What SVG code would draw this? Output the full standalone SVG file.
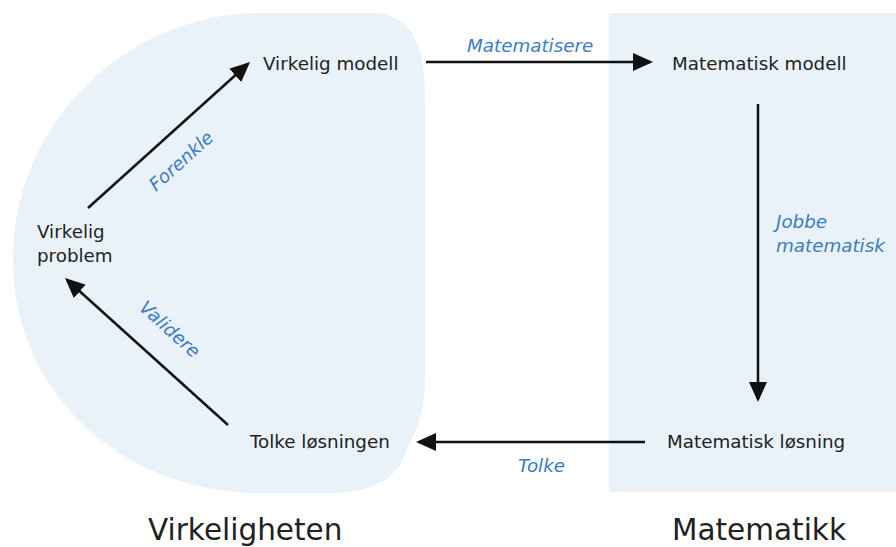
<svg xmlns="http://www.w3.org/2000/svg" width="896" height="547" viewBox="0 0 896 547">
<style>
.bg{fill:#e9f2f9;stroke:none}
.node{font-family:"DejaVu Sans","Verdana",sans-serif;font-size:18.3px;fill:#222}
.lbl{font-family:"DejaVu Sans","Verdana",sans-serif;font-size:18.3px;font-style:italic;fill:#3b7cc6}
.title{font-family:"DejaVu Sans","Verdana",sans-serif;font-size:29.5px;fill:#222}
.conn line{stroke:#111;stroke-width:2.5;fill:none;marker-end:url(#ah)}
</style>
<defs>
<marker id="ah" markerUnits="userSpaceOnUse" markerWidth="22" markerHeight="20" refX="17" refY="9" orient="auto">
<path d="M0,0 L20,9 L0,18 Z" fill="#111"/>
</marker>
</defs>
<rect width="896" height="547" fill="#ffffff"/>
<g id="region-virkeligheten">
<path class="bg" d="M260,13 L370,13 C410,13 425,40 425,100 L425,380 C425,420 410,440 405,455 C395,480 370,493 330,493 L260,493 C120,493 13,390 13,260 C13,120 130,13 260,13 Z"/>
<text class="title" x="148" y="540">Virkeligheten</text>
</g>
<g id="region-matematikk">
<rect class="bg" x="609" y="13" width="287" height="479"/>
<text class="title" x="672" y="540">Matematikk</text>
</g>
<g class="conn" id="connectors">
<line x1="426" y1="62" x2="650" y2="62"/>
<line x1="758" y1="104" x2="758" y2="399"/>
<line x1="645" y1="442" x2="419" y2="442"/>
<line x1="88" y1="208" x2="247.8" y2="64"/>
<line x1="228" y1="425" x2="67.2" y2="280"/>
</g>
<g id="edge-labels">
<text class="lbl" x="467" y="52">Matematisere</text>
<text class="lbl" x="776" y="228">Jobbe</text>
<text class="lbl" x="776" y="252">matematisk</text>
<text class="lbl" x="518" y="472">Tolke</text>
<text class="lbl" transform="translate(156,192) rotate(-42)">Forenkle</text>
<text class="lbl" transform="translate(138,309) rotate(42)">Validere</text>
</g>
<g id="node-virkelig-modell"><text class="node" x="263" y="70">Virkelig modell</text></g>
<g id="node-matematisk-modell"><text class="node" x="672" y="70">Matematisk modell</text></g>
<g id="node-matematisk-losning"><text class="node" x="667" y="448">Matematisk løsning</text></g>
<g id="node-tolke-losningen"><text class="node" x="250" y="448">Tolke løsningen</text></g>
<g id="node-virkelig-problem"><text class="node" x="37" y="238">Virkelig</text><text class="node" x="37" y="262">problem</text></g>
</svg>
